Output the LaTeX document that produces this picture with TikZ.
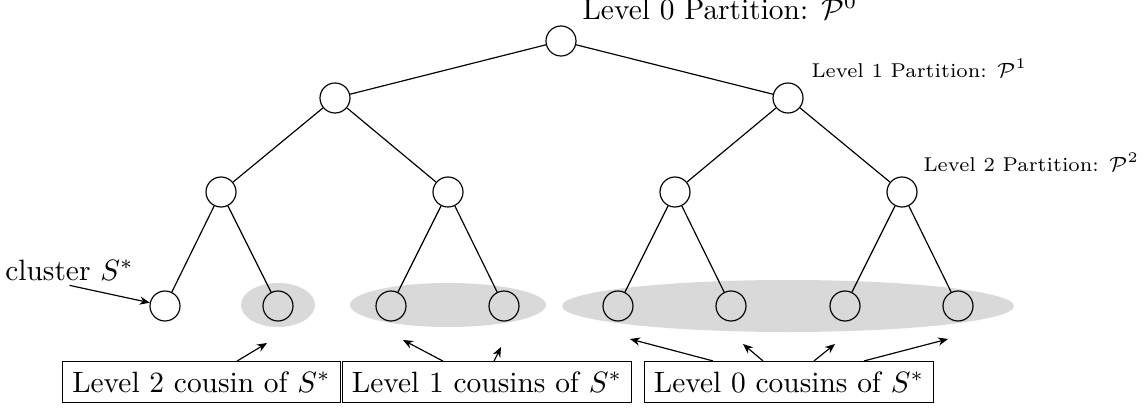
\documentclass[tikz,border=0pt]{standalone}
\usetikzlibrary{calc,arrows.meta}
\begin{document}
\begin{tikzpicture}[x=0.34pt,y=-0.34pt,
  vert/.style={circle,draw,minimum size=10.2pt,inner sep=0pt},
  region/.style={fill=black!15,draw=none},
  cbox/.style={draw,inner sep=3.33pt},
  arr/.style={-{Stealth[length=3.4pt,width=2.8pt]}},
  lbl/.style={anchor=base west,inner sep=0pt},
  small/.style={font=\fontsize{6.8pt}{8.5pt}\selectfont}]
\useasboundingbox (0,0) rectangle (1146,409);
% shaded cousin regions
\fill[region] (278,305) ellipse [x radius=12.58pt, y radius=7.48pt];
\fill[region] (448,305) ellipse [x radius=33.32pt, y radius=7.48pt];
\fill[region] (788,306) ellipse [x radius=76.84pt, y radius=8.84pt];
% tree
\node[vert] (r) at (561,41) {};
\node[vert] (a) at (335,98) {};
\node[vert] (b) at (788,98) {};
\node[vert] (aa) at (221,192) {};
\node[vert] (ab) at (448,192) {};
\node[vert] (ba) at (675,192) {};
\node[vert] (bb) at (902,192) {};
\node[vert] (l1) at (165,306) {};
\node[vert] (l2) at (278,306) {};
\node[vert] (l3) at (391,306) {};
\node[vert] (l4) at (504,306) {};
\node[vert] (l5) at (618,306) {};
\node[vert] (l6) at (731,306) {};
\node[vert] (l7) at (845,306) {};
\node[vert] (l8) at (958,306) {};
\draw (r) -- (a); \draw (r) -- (b);
\draw (a) -- (aa); \draw (a) -- (ab);
\draw (b) -- (ba); \draw (b) -- (bb);
\draw (aa) -- (l1); \draw (aa) -- (l2);
\draw (ab) -- (l3); \draw (ab) -- (l4);
\draw (ba) -- (l5); \draw (ba) -- (l6);
\draw (bb) -- (l7); \draw (bb) -- (l8);
% partition labels
\node[lbl] (p0) at (582,19) {Level 0 Partition: $\mathcal{P}^0$};
\node[lbl,small] (p1) at (811,77) {Level 1 Partition: $\mathcal{P}^1$};
\node[lbl,small] (p2) at (923,171) {Level 2 Partition: $\mathcal{P}^2$};
% cluster label
\node[inner sep=1.5pt] (clus) at (69.5,270) {cluster $S^*$};
\draw[arr] (clus.south) -- (l1);
% boxes
\node[cbox] (b1) at (201.5,382) {Level 2 cousin of $S^*$};
\node[cbox] (b2) at (487,382) {Level 1 cousins of $S^*$};
\node[cbox] (b3) at (789,382) {Level 0 cousins of $S^*$};
\coordinate (t1) at (267,343);
\coordinate (t2) at (403,340);
\coordinate (t3) at (501,347);
\coordinate (t4) at (630,339);
\coordinate (t5) at (743,344);
\coordinate (t6) at (835,344);
\coordinate (t7) at (948,339);
\draw[arr] ($(b1.north)+(35.5,0)$) -- (t1);
\draw[arr] ($(b2.north)+(-44,0)$) -- (t2);
\draw[arr] ($(b2.north)+(7,0)$) -- (t3);
\draw[arr] ($(b3.north)+(-76,0)$) -- (t4);
\draw[arr] ($(b3.north)+(-26,0)$) -- (t5);
\draw[arr] ($(b3.north)+(25,0)$) -- (t6);
\draw[arr] ($(b3.north)+(75,0)$) -- (t7);
\end{tikzpicture}
\end{document}
